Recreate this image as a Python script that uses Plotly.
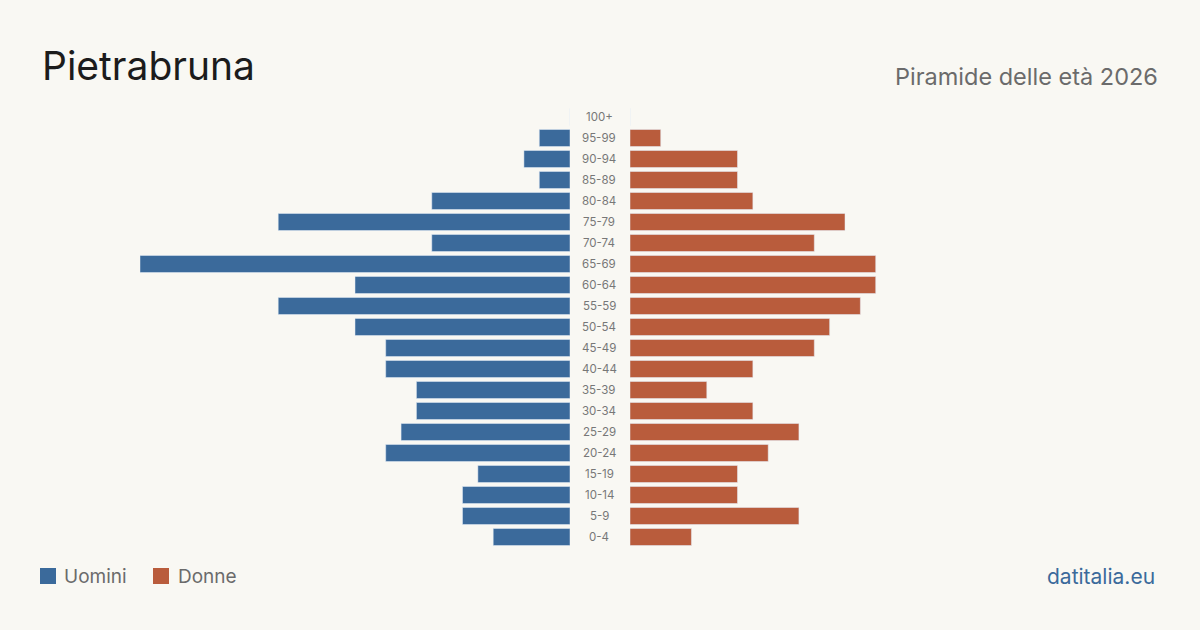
import plotly.graph_objects as go

ages = ["0-4", "5-9", "10-14", "15-19", "20-24", "25-29", "30-34", "35-39", "40-44",
        "45-49", "50-54", "55-59", "60-64", "65-69", "70-74", "75-79", "80-84",
        "85-89", "90-94", "95-99", "100+"]
uomini = [5, 7, 7, 6, 12, 11, 10, 10, 12, 12, 14, 19, 14, 28, 9, 19, 9, 2, 3, 2, 0]
donne = [4, 11, 7, 7, 9, 11, 8, 5, 8, 12, 13, 15, 16, 16, 12, 14, 8, 7, 7, 2, 0]

BLUE = "#3b6a9b"
ORANGE = "#b95c3c"
BG = "#f9f8f3"
FONT = "Inter"

fig = go.Figure()
fig.add_trace(go.Bar(y=ages, x=uomini, orientation="h", marker_color=BLUE,
                     xaxis="x", yaxis="y", showlegend=False, hoverinfo="x+y"))
fig.add_trace(go.Bar(y=ages, x=donne, orientation="h", marker_color=ORANGE,
                     xaxis="x2", yaxis="y", showlegend=False, hoverinfo="x+y"))

xmax = 28
H = 630
W = 1200
ytop = 106.5
ybot = 547.5

for a in ages:
    fig.add_annotation(x=0.4992, y=a, xref="paper", yref="y", text=a, showarrow=False,
                       font=dict(family=FONT, size=11.5, color="#777777"),
                       xanchor="center", yanchor="middle")

fig.update_layout(
    width=W, height=H,
    paper_bgcolor=BG, plot_bgcolor="rgba(0,0,0,0)",
    margin=dict(l=0, r=0, t=0, b=0),
    bargap=0.19,
    xaxis=dict(domain=[140 / W, 570 / W], range=[xmax, 0], visible=False, fixedrange=True),
    xaxis2=dict(domain=[630 / W, 1060 / W], range=[0, xmax], visible=False, fixedrange=True),
    yaxis=dict(domain=[1 - ybot / H, 1 - ytop / H], categoryorder="array", categoryarray=ages,
               visible=False, fixedrange=True),
    font=dict(family=FONT),
)

fig.add_annotation(x=40 / W, y=1 - 66 / H, xref="paper", yref="paper", text="Pietrabruna",
                   showarrow=False, xanchor="left", yanchor="middle",
                   font=dict(family=FONT, size=39, color="#1c1c1c"))
fig.add_annotation(x=1160 / W, y=1 - 76 / H, xref="paper", yref="paper", text="Piramide delle età 2026",
                   showarrow=False, xanchor="right", yanchor="middle",
                   font=dict(family=FONT, size=23.5, color="#6b6b6b"))

# legend
fig.add_shape(type="rect", xref="paper", yref="paper",
              x0=40 / W, x1=56 / W, y0=1 - 584 / H, y1=1 - 568 / H,
              fillcolor=BLUE, line_width=0)
fig.add_annotation(x=62 / W, y=1 - 576 / H, xref="paper", yref="paper", text="Uomini",
                   showarrow=False, xanchor="left", yanchor="middle",
                   font=dict(family=FONT, size=19, color="#6b6b6b"))
fig.add_shape(type="rect", xref="paper", yref="paper",
              x0=153 / W, x1=169 / W, y0=1 - 584 / H, y1=1 - 568 / H,
              fillcolor=ORANGE, line_width=0)
fig.add_annotation(x=176 / W, y=1 - 576 / H, xref="paper", yref="paper", text="Donne",
                   showarrow=False, xanchor="left", yanchor="middle",
                   font=dict(family=FONT, size=19, color="#6b6b6b"))
fig.add_annotation(x=1157 / W, y=1 - 576 / H, xref="paper", yref="paper", text="datitalia.eu",
                   showarrow=False, xanchor="right", yanchor="middle",
                   font=dict(family=FONT, size=21, color="#3b6a9b"))

fig.write_html("out.html", config={"displayModeBar": False})
